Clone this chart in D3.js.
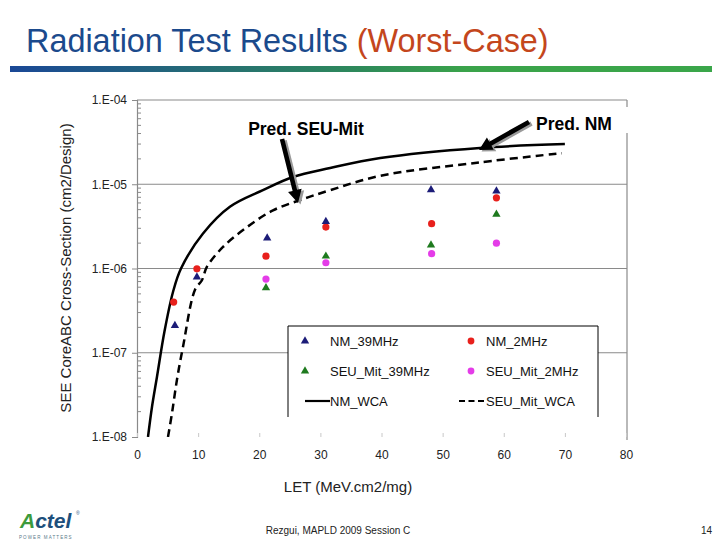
<!DOCTYPE html>
<html><head><meta charset="utf-8">
<script src="https://cdn.jsdelivr.net/npm/d3@7"></script>
<style>html,body{margin:0;padding:0;background:#fff}svg{display:block}</style>
</head><body><div id="c"></div>
<script>
// ---- data ----
const xTicks = [0,10,20,30,40,50,60,70,80];
const yTicks = [1e-8,1e-7,1e-6,1e-5,1e-4];
const yTickLabels = ["1.E-08","1.E-07","1.E-06","1.E-05","1.E-04"];
const nm39LET   = [6.2, 9.8, 21.3, 30.9, 48.1, 58.8];
const nm39Val   = [2.1e-7, 7.9e-7, 2.3e-6, 3.6e-6, 8.6e-6, 8.3e-6];
const nm2LET    = [6.0, 9.8, 21.1, 30.9, 48.2, 58.8];
const nm2Val    = [4.0e-7, 9.9e-7, 1.4e-6, 3.1e-6, 3.4e-6, 6.9e-6];
const seu39LET  = [21.1, 30.9, 48.1, 58.8];
const seu39Val  = [5.9e-7, 1.4e-6, 1.9e-6, 4.4e-6];
const seu2LET   = [21.1, 30.9, 48.2, 58.8];
const seu2Val   = [7.5e-7, 1.17e-6, 1.5e-6, 2.0e-6];
const nmWcaLET  = [1.8, 2.45, 3.27, 4.5, 5.9, 7.2, 10.8, 15.2, 20.6, 25.5, 31.6, 39.8, 56.1, 70.0];
const nmWcaVal  = [1.0e-8, 2.27e-8, 5.2e-8, 1.8e-7, 5.3e-7, 1.0e-6, 2.6e-6, 5.4e-6, 8.5e-6, 1.22e-5, 1.56e-5, 2.05e-5, 2.7e-5, 3.0e-5];
const seuWcaLET = [5.07, 5.73, 6.54, 7.53, 9.49, 10.6, 11.45, 14.07, 18.0, 22.25, 26.7, 31.6, 39.8, 56.1, 69.5];
const seuWcaVal = [1.0e-8, 1.93e-8, 4.8e-8, 1.18e-7, 5.6e-7, 7.2e-7, 1.05e-6, 1.8e-6, 3.1e-6, 4.9e-6, 6.5e-6, 8.5e-6, 1.26e-5, 1.82e-5, 2.34e-5];
const legendNames = ["NM_39MHz","NM_2MHz","SEU_Mit_39MHz","SEU_Mit_2MHz","NM_WCA","SEU_Mit_WCA"];

const W=720,H=540;
const svg=d3.select("#c").append("svg").attr("width",W).attr("height",H);
const FONT="Arial, 'Liberation Sans', sans-serif";

// ---- title ----
const title=svg.append("text").attr("x",26).attr("y",52).attr("font-family",FONT).attr("font-size",32.4);
title.append("tspan").attr("fill","#1b4a8c").text("Radiation Test Results ");
title.append("tspan").attr("fill","#c4461c").text("(Worst-Case)");
const defs=svg.append("defs");
const g=defs.append("linearGradient").attr("id","bar");
g.append("stop").attr("offset","0").attr("stop-color","#1a4896");
g.append("stop").attr("offset","0.5").attr("stop-color","#2e8a5a");
g.append("stop").attr("offset","0.65").attr("stop-color","#3aa34a");
g.append("stop").attr("offset","1").attr("stop-color","#3aa64a");
svg.append("rect").attr("x",10).attr("y",66).attr("width",702).attr("height",6).attr("fill","url(#bar)");

// ---- scales ----
const x=d3.scaleLinear().domain([0,80]).range([137,626]);
const y=d3.scaleLog().domain([1e-8,1e-4]).range([437,100]);

// gridlines & frame
svg.append("g").selectAll("line").data(yTicks.slice(1)).join("line")
  .attr("x1",137).attr("x2",627).attr("y1",d=>y(d)).attr("y2",d=>y(d))
  .attr("stroke","#8a8a8a").attr("stroke-width",1.2);
svg.append("line").attr("x1",627).attr("x2",627).attr("y1",y(1e-4)).attr("y2",440)
  .attr("stroke","#8a8a8a").attr("stroke-width",1.2);

// y axis
const yAxis=svg.append("g").attr("transform","translate(137,0)")
  .call(d3.axisLeft(y).tickValues(yTicks).tickSize(5).tickFormat((d,i)=>yTickLabels[i]));
yAxis.select(".domain").attr("stroke","#8a8a8a").attr("stroke-width",1.2);
yAxis.selectAll(".tick line").attr("stroke","#8a8a8a");
yAxis.selectAll(".tick text").attr("font-family",FONT).attr("font-size",12).attr("fill","#222").attr("x",-10);
const minor=[];
for(let e=-8;e<-4;e++) for(let k=2;k<10;k++) minor.push(k*Math.pow(10,e));
svg.append("g").selectAll("line").data(minor).join("line")
  .attr("x1",137).attr("x2",141).attr("y1",d=>y(d)).attr("y2",d=>y(d))
  .attr("stroke","#8a8a8a");

// x axis (no domain line)
const xAxis=svg.append("g").attr("transform","translate(0,437)")
  .call(d3.axisBottom(x).tickValues(xTicks).tickSizeInner(-4).tickSizeOuter(0).tickPadding(13));
xAxis.select(".domain").remove();
xAxis.selectAll(".tick line").attr("stroke","#c8c8c8");
xAxis.selectAll(".tick text").attr("font-family",FONT).attr("font-size",12).attr("fill","#222");

// axis titles
svg.append("text").attr("transform","translate(71,268) rotate(-90)").attr("text-anchor","middle")
  .attr("font-family",FONT).attr("font-size",15).attr("fill","#222").text("SEE CoreABC Cross-Section (cm2/Design)");
svg.append("text").attr("x",348).attr("y",492).attr("text-anchor","middle")
  .attr("font-family",FONT).attr("font-size",15).attr("fill","#222").text("LET (MeV.cm2/mg)");

// ---- curves ----
defs.append("clipPath").attr("id","plot").append("rect").attr("x",137).attr("y",100).attr("width",490).attr("height",337);
const line=d3.line().x(d=>x(d[0])).y(d=>y(d[1])).curve(d3.curveCatmullRom.alpha(0.5));
const plot=svg.append("g").attr("clip-path","url(#plot)");
plot.append("path").datum(d3.zip(nmWcaLET,nmWcaVal)).attr("d",line)
  .attr("fill","none").attr("stroke","#000").attr("stroke-width",2.5);
plot.append("path").datum(d3.zip(seuWcaLET,seuWcaVal)).attr("d",line)
  .attr("fill","none").attr("stroke","#000").attr("stroke-width",2.5).attr("stroke-dasharray","8,5");

// ---- markers ----
const tri=d3.symbol().type(d3.symbolTriangle).size(30);
function triangles(L,V,col){
  svg.append("g").selectAll("path").data(d3.zip(L,V)).join("path")
    .attr("d",tri).attr("transform",d=>`translate(${x(d[0])},${y(d[1])})`).attr("fill",col);
}
function circles(L,V,col){
  svg.append("g").selectAll("circle").data(d3.zip(L,V)).join("circle")
    .attr("cx",d=>x(d[0])).attr("cy",d=>y(d[1])).attr("r",3.6).attr("fill",col);
}
const C={nm39:"#1c1c78",nm2:"#e8201c",seu39:"#1e7a1e",seu2:"#e43ce8"};
circles(seu2LET,seu2Val,C.seu2);
triangles(seu39LET,seu39Val,C.seu39);
circles(nm2LET,nm2Val,C.nm2);
triangles(nm39LET,nm39Val,C.nm39);

// ---- legend ----
const lg=svg.append("g");
lg.append("rect").attr("x",288).attr("y",326).attr("width",310).attr("height",91).attr("fill","#fff");
lg.append("path").attr("d","M288,417V326H598V417").attr("fill","none").attr("stroke","#000").attr("stroke-width",1);
const rowY=[341,371,401];
lg.append("path").attr("d",tri).attr("transform",`translate(305,${rowY[0]})`).attr("fill",C.nm39);
lg.append("circle").attr("cx",471).attr("cy",rowY[0]).attr("r",3.4).attr("fill",C.nm2);
lg.append("path").attr("d",tri).attr("transform",`translate(305,${rowY[1]})`).attr("fill",C.seu39);
lg.append("circle").attr("cx",471).attr("cy",rowY[1]).attr("r",3.4).attr("fill",C.seu2);
lg.append("line").attr("x1",305).attr("x2",330).attr("y1",rowY[2]).attr("y2",rowY[2]).attr("stroke","#000").attr("stroke-width",2.2);
lg.append("line").attr("x1",459).attr("x2",485).attr("y1",rowY[2]).attr("y2",rowY[2]).attr("stroke","#000").attr("stroke-width",2.2).attr("stroke-dasharray","6,3.5");
const lx=[330,486];
legendNames.forEach((n,i)=>{
  lg.append("text").attr("x",lx[i%2]).attr("y",rowY[Math.floor(i/2)]+5)
    .attr("font-family",FONT).attr("font-size",13).attr("fill","#111").text(n);
});

// ---- annotations ----
svg.append("rect").attr("x",530).attr("y",107).attr("width",100).attr("height",26).attr("fill","#fff");
svg.append("text").attr("x",306).attr("y",135).attr("text-anchor","middle").attr("font-family",FONT)
  .attr("font-weight","bold").attr("font-size",17.5).attr("fill","#000").text("Pred. SEU-Mit");
svg.append("text").attr("x",574).attr("y",130).attr("text-anchor","middle").attr("font-family",FONT)
  .attr("font-weight","bold").attr("font-size",17.5).attr("fill","#000").text("Pred. NM");
function arrow(x1,y1,x2,y2){
  const a=Math.atan2(y2-y1,x2-x1), L=Math.hypot(x2-x1,y2-y1), hl=13, hw=7, sw=2.3;
  const pts=[[0,-sw],[L-hl,-sw],[L-hl,-hw],[L,0],[L-hl,hw],[L-hl,sw],[0,sw]];
  const d="M"+pts.map(p=>p.join(",")).join("L")+"Z";
  const deg=a*180/Math.PI;
  svg.append("path").attr("d",d).attr("fill","#9a9a9a").attr("transform",`translate(${x1+2.5},${y1+1.5}) rotate(${deg})`);
  svg.append("path").attr("d",d).attr("fill","#000").attr("transform",`translate(${x1},${y1}) rotate(${deg})`);
}
arrow(282,139,298,203);
arrow(529,122,479,150);

// ---- footer ----
const logo=svg.append("text").attr("x",20).attr("y",528).attr("font-family",FONT)
  .attr("font-weight","bold").attr("font-style","italic").attr("font-size",21);
logo.append("tspan").attr("fill","#3c9a3c").text("A");
logo.append("tspan").attr("fill","#1d4f7c").text("ctel");
svg.append("text").attr("x",76).attr("y",515).attr("font-family",FONT).attr("font-size",5).attr("fill","#1d4f7c").text("®");
svg.append("text").attr("x",19).attr("y",538.5).attr("font-family",FONT).attr("font-size",4.5)
  .attr("letter-spacing",1.1).attr("fill","#5a7a8a").text("POWER MATTERS");
svg.append("text").attr("x",338).attr("y",534).attr("text-anchor","middle").attr("font-family",FONT)
  .attr("font-size",10).attr("fill","#222").text("Rezgui, MAPLD 2009 Session C");
svg.append("text").attr("x",712).attr("y",534).attr("text-anchor","end").attr("font-family",FONT)
  .attr("font-size",10).attr("fill","#222").text("14");
</script></body></html>
